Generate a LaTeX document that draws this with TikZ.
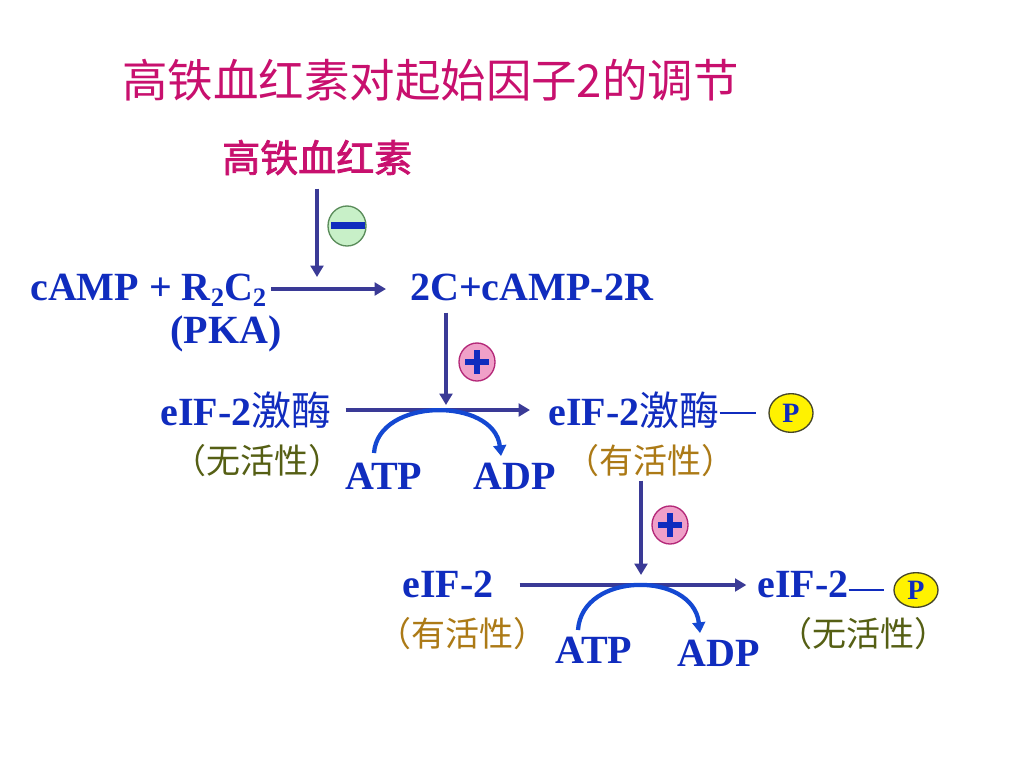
\documentclass[tikz,border=0pt]{standalone}
\usepackage{fontspec}
\setmainfont{Liberation Serif}
\newfontfamily\cjk{Noto Sans CJK SC}
\newfontfamily\cjkb[FakeBold=2]{Noto Sans CJK SC}
\usetikzlibrary{arrows.meta,shapes.geometric}
\definecolor{txtblue}{RGB}{16,44,190}
\definecolor{arrowdark}{RGB}{58,58,150}
\definecolor{arcblue}{RGB}{20,72,210}
\definecolor{magentat}{RGB}{200,16,110}
\definecolor{olivet}{RGB}{85,95,20}
\definecolor{goldt}{RGB}{172,122,22}
\definecolor{mintfill}{RGB}{200,240,200}
\definecolor{mintdraw}{RGB}{90,140,90}
\definecolor{pinkfill}{RGB}{240,160,200}
\definecolor{pinkdraw}{RGB}{180,40,120}
\definecolor{pdraw}{RGB}{70,70,40}
\begin{document}
\begin{tikzpicture}[x=0.75pt,y=-0.75pt,
  lat/.style={font=\fontsize{30}{36}\selectfont\bfseries, text=txtblue, inner sep=0pt, anchor=base west},
  statetxt/.style={font=\cjk\fontsize{25.5}{30}\selectfont, inner sep=0pt, anchor=base west},
  darr/.style={draw=arrowdark, line width=2.4pt, -{Triangle[length=8.5pt,width=9.5pt]}},
  arcarr/.style={draw=arcblue, line width=3.2pt, -{Triangle[length=8pt,width=9.5pt]}},
  dashln/.style={draw=txtblue, line width=2pt},
  pbadge/.style={ellipse, draw=pdraw, line width=1pt, fill=yellow, inner sep=0pt, text=txtblue, font=\fontsize{21}{21}\selectfont\bfseries},
  minusbadge/.style={ellipse, draw=mintdraw, line width=1pt, fill=mintfill, minimum width=28.5pt, minimum height=30pt, inner sep=0pt},
  plusbadge/.style={ellipse, draw=pinkdraw, line width=1pt, fill=pinkfill, minimum width=27pt, minimum height=28.5pt, inner sep=0pt},
  signbar/.style={draw=txtblue, line width=3.8pt}
]
\useasboundingbox (0,0) rectangle (1024,768);
\fill[white] (0,0) rectangle (1024,768);

% title
\node[inner sep=0pt, anchor=base west, text=magentat, font=\cjk\fontsize{34.1}{38}\selectfont] (title) at (122,97) {高铁血红素对起始因子2的调节};

% heme
\node[inner sep=0pt, anchor=base west, text=magentat, font=\cjkb\fontsize{28.5}{32}\selectfont] (heme) at (222,172) {高铁血红素};

% first row
\node[lat] (campr) at (30,300) {cAMP + R\raisebox{-0.17em}{\fontsize{20}{20}\selectfont 2}C\raisebox{-0.17em}{\fontsize{20}{20}\selectfont 2}};
\node[lat] (pka) at (170,343) {(PKA)};
\node[lat] (ccamp) at (410,300) {2C+cAMP-2R};

\coordinate (j1) at (317,289);
\coordinate (j2) at (446,410);
\coordinate (j3) at (641,585);

\draw[darr, shorten <=10pt, shorten >=9pt] (heme.south -| j1) -- (j1);
\draw[darr, shorten <=3.5pt, shorten >=18pt] (campr.east |- j1) -- (ccamp.west |- j1);

\node[minusbadge] (inh) at (347,226) {};
\fill[txtblue] (331,222) rectangle (365,229);

% second row
\node[lat] (kin1) at (160,425) {eIF-2{\mdseries\cjk 激酶}};
\node[statetxt, text=olivet] (inact1) at (172,473) {（无活性）};
\node[lat] (atp1) at (345,489) {ATP};
\node[lat] (adp1) at (473,489) {ADP};
\node[lat] (kin2) at (548,425) {eIF-2{\mdseries\cjk 激酶}};
\node[statetxt, text=goldt] (act1) at (565,473) {（有活性）};
\node[pbadge, minimum width=33pt, minimum height=29pt] (p1) at (791,413) {P};

\draw[darr, shorten <=9pt, shorten >=3.75pt] (ccamp.south -| j2) -- (j2);
\node[plusbadge] (act) at (477,362) {};
\draw[signbar] (465,362) -- (489,362) (477,350) -- (477,374);

\draw[darr, shorten <=10.5pt, shorten >=13.5pt] (kin1.east |- j2) -- (kin2.west |- j2);
\draw[dashln, shorten >=9pt] (kin2.east |- p1.west) -- (p1.west);

\coordinate (a1s) at (374,453);
\coordinate (a1e) at (501,456);
\draw[arcarr] (a1s) .. controls (378,397) and (494,397) .. (a1e);

% third row
\node[lat] (eif1) at (402,597) {eIF-2};
\node[statetxt, text=goldt] (act2) at (377,646) {（有活性）};
\node[lat] (atp2) at (555,663) {ATP};
\node[lat] (adp2) at (677,666) {ADP};
\node[lat] (eif2) at (757,597) {eIF-2};
\node[statetxt, text=olivet] (inact2) at (778,646) {（无活性）};
\node[pbadge, minimum width=33pt, minimum height=26pt] (p2) at (916,590) {P};

\draw[darr, shorten <=3pt, shorten >=7.5pt] (act1.south -| j3) -- (j3);
\node[plusbadge] (act3) at (670,525) {};
\draw[signbar] (658,525) -- (682,525) (670,513) -- (670,537);

\draw[darr, shorten <=19.5pt, shorten >=8pt] (eif1.east |- j3) -- (eif2.west |- j3);
\draw[dashln, shorten >=7pt] (eif2.east |- p2.west) -- (p2.west);

\coordinate (a2s) at (578,630);
\coordinate (a2e) at (700,633);
\draw[arcarr] (a2s) .. controls (582,571) and (693,571) .. (a2e);
\end{tikzpicture}
\end{document}
